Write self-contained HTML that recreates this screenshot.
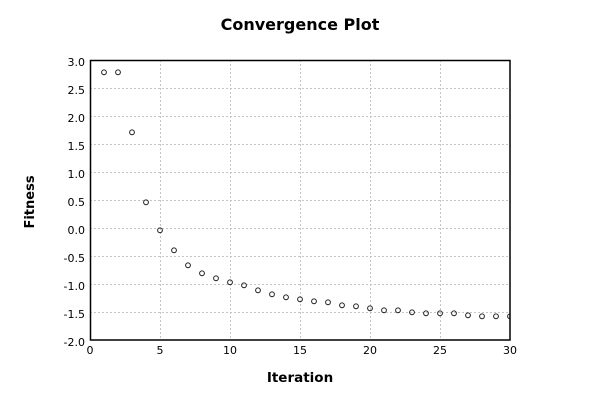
<!DOCTYPE html>
<html>
<head>
<meta charset="utf-8">
<style>
html,body{margin:0;padding:0;background:#fff;}
svg{display:block;}
text{font-family:"DejaVu Sans","Liberation Sans",sans-serif;fill:#000;}
</style>
</head>
<body>
<svg width="600" height="400" viewBox="0 0 600 400" xmlns="http://www.w3.org/2000/svg">
<rect x="0" y="0" width="600" height="400" fill="#fff"/>
<defs><clipPath id="pc"><rect x="90" y="60" width="420" height="280"/></clipPath></defs>
<text x="300" y="30" text-anchor="middle" font-size="16" font-weight="bold">Convergence Plot</text>
<rect x="90" y="60" width="420" height="280" fill="#fff"/>
<g stroke="#c4c4c4" stroke-width="1" stroke-dasharray="2,2" fill="none">
<line x1="160.5" y1="60" x2="160.5" y2="340"/>
<line x1="230.5" y1="60" x2="230.5" y2="340"/>
<line x1="300.5" y1="60" x2="300.5" y2="340"/>
<line x1="370.5" y1="60" x2="370.5" y2="340"/>
<line x1="440.5" y1="60" x2="440.5" y2="340"/>
<line x1="90" y1="88.5" x2="510" y2="88.5"/>
<line x1="90" y1="116.5" x2="510" y2="116.5"/>
<line x1="90" y1="144.5" x2="510" y2="144.5"/>
<line x1="90" y1="172.5" x2="510" y2="172.5"/>
<line x1="90" y1="200.5" x2="510" y2="200.5"/>
<line x1="90" y1="228.5" x2="510" y2="228.5"/>
<line x1="90" y1="256.5" x2="510" y2="256.5"/>
<line x1="90" y1="284.5" x2="510" y2="284.5"/>
<line x1="90" y1="312.5" x2="510" y2="312.5"/>
</g>
<g clip-path="url(#pc)" fill="none" stroke="#222" stroke-width="1">
<circle cx="104" cy="72.3" r="2.4"/>
<circle cx="118" cy="72.3" r="2.4"/>
<circle cx="132" cy="132.3" r="2.4"/>
<circle cx="146" cy="202.3" r="2.4"/>
<circle cx="160" cy="230.3" r="2.4"/>
<circle cx="174" cy="250.3" r="2.4"/>
<circle cx="188" cy="265.3" r="2.4"/>
<circle cx="202" cy="273.3" r="2.4"/>
<circle cx="216" cy="278.3" r="2.4"/>
<circle cx="230" cy="282.3" r="2.4"/>
<circle cx="244" cy="285.3" r="2.4"/>
<circle cx="258" cy="290.3" r="2.4"/>
<circle cx="272" cy="294.3" r="2.4"/>
<circle cx="286" cy="297.3" r="2.4"/>
<circle cx="300" cy="299.3" r="2.4"/>
<circle cx="314" cy="301.3" r="2.4"/>
<circle cx="328" cy="302.3" r="2.4"/>
<circle cx="342" cy="305.3" r="2.4"/>
<circle cx="356" cy="306.3" r="2.4"/>
<circle cx="370" cy="308.3" r="2.4"/>
<circle cx="384" cy="310.3" r="2.4"/>
<circle cx="398" cy="310.3" r="2.4"/>
<circle cx="412" cy="312.3" r="2.4"/>
<circle cx="426" cy="313.3" r="2.4"/>
<circle cx="440" cy="313.3" r="2.4"/>
<circle cx="454" cy="313.3" r="2.4"/>
<circle cx="468" cy="315.3" r="2.4"/>
<circle cx="482" cy="316.3" r="2.4"/>
<circle cx="496" cy="316.3" r="2.4"/>
<circle cx="510" cy="316.3" r="2.4"/>
</g>
<rect x="90.5" y="60.5" width="419.5" height="279.5" fill="none" stroke="#000" stroke-width="1.5"/>
<g font-size="11" text-anchor="end">
<text x="85" y="66">3.0</text>
<text x="85" y="94">2.5</text>
<text x="85" y="122">2.0</text>
<text x="85" y="150">1.5</text>
<text x="85" y="178">1.0</text>
<text x="85" y="206">0.5</text>
<text x="85" y="234">0.0</text>
<text x="85" y="262">-0.5</text>
<text x="85" y="290">-1.0</text>
<text x="85" y="318">-1.5</text>
<text x="85" y="346">-2.0</text>
</g>
<g font-size="11" text-anchor="middle">
<text x="90" y="354">0</text>
<text x="160" y="354">5</text>
<text x="230" y="354">10</text>
<text x="300" y="354">15</text>
<text x="370" y="354">20</text>
<text x="440" y="354">25</text>
<text x="510" y="354">30</text>
</g>
<text x="300" y="382" text-anchor="middle" font-size="13.5" font-weight="bold">Iteration</text>
<text transform="translate(34,202) rotate(-90)" text-anchor="middle" font-size="13" font-weight="bold">Fitness</text>
</svg>
</body>
</html>
